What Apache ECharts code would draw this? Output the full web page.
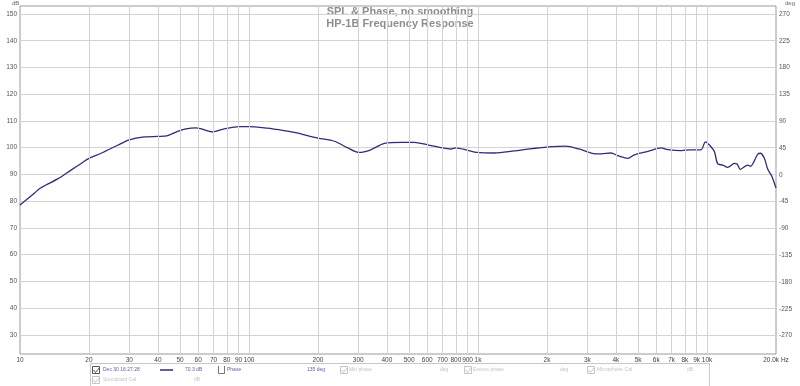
<!DOCTYPE html>
<html>
<head>
<meta charset="utf-8">
<script src="https://cdn.jsdelivr.net/npm/echarts@6/dist/echarts.min.js"></script>
<style>html,body{margin:0;padding:0;background:#fff}#c{width:800px;height:386px}</style>
</head>
<body>
<div id="c"></div>
<script>
// ---- data ----
const titleLines = ['SPL & Phase, no smoothing', 'HP-1B Frequency Response'];
const freqHz = [10, 11.2, 12.35, 14.6, 16.7, 18.5, 20, 22.6, 26.7, 30, 34.9, 40, 44.2, 48.8, 53, 58.6, 62, 69.3, 77.9, 90.6, 100, 120, 142, 158, 200, 236, 270, 302, 340, 390, 464, 527, 604, 690, 760, 800, 900, 990, 1180, 1440, 1710, 2100, 2410, 2760, 3150, 3445, 3808, 4077, 4505, 4815, 5513, 6300, 6735, 7700, 8510, 9410, 9840, 10240, 10760, 11140, 11720, 12310, 13160, 13520, 13970, 15060, 15460, 16650, 17090, 17790, 18410, 19170, 20000];
const splDb = [78.5, 82.0, 85.0, 88.3, 91.6, 94.1, 96.0, 97.9, 100.9, 102.9, 104.0, 104.2, 104.5, 106.1, 107.0, 107.4, 107.0, 105.9, 107.0, 107.9, 107.9, 107.3, 106.4, 105.7, 103.6, 102.4, 99.9, 98.2, 99.2, 101.6, 102.0, 102.0, 101.0, 100.0, 99.5, 99.9, 99.0, 98.2, 98.0, 98.8, 99.6, 100.4, 100.6, 99.5, 97.9, 97.7, 98.0, 97.0, 96.0, 97.3, 98.6, 99.9, 99.3, 98.9, 99.2, 99.2, 102.2, 101.0, 98.6, 93.9, 93.5, 92.6, 94.1, 93.9, 91.9, 93.5, 93.0, 97.6, 97.9, 96.0, 91.9, 89.3, 84.9];
const xGridValues = [20, 30, 40, 50, 60, 70, 80, 90, 100, 200, 300, 400, 500, 600, 700, 800, 900, 1000, 2000, 3000, 4000, 5000, 6000, 7000, 8000, 9000, 10000];
const xGridLabels = ['20', '30', '40', '50', '60', '70', '80', '90', '100', '200', '300', '400', '500', '600', '700', '800', '900', '1k', '2k', '3k', '4k', '5k', '6k', '7k', '8k', '9k', '10k'];
const xEdgeValues = [10, 20000];
const xEdgeLabels = ['10', '20.0k Hz'];
const dbTicks = [30, 40, 50, 60, 70, 80, 90, 100, 110, 120, 130, 140, 150];
const degTicks = [-270, -225, -180, -135, -90, -45, 0, 45, 90, 135, 180, 225, 270];
const legendRow1 = ['Dec 30 16:27:28', '70.3 dB', 'Phase', '135 deg', 'Min phase', 'deg', 'Excess phase', 'deg', 'Microphone Cal', 'dB'];
const legendRow2 = ['Soundcard Cal', 'dB'];

// ---- chart ----
const FONT = '"Liberation Sans", Arial, sans-serif';
const chart = echarts.init(document.getElementById('c'), null, {renderer: 'canvas'});

const gridMarks = xGridValues.map((v, i) => ({xAxis: v, name: xGridLabels[i]}));
const edgeMarks = xEdgeValues.map((v, i) => ({xAxis: v, name: xEdgeLabels[i], lineStyle: {color: 'rgba(0,0,0,0)'}}));

const txt = (x, y, s, fill) => ({type: 'text', x: x, y: y, style: {text: s, fill: fill, font: '5px ' + FONT, verticalAlign: 'middle'}, silent: true});
const box = (x, y, stroke, checked) => {
  const els = [{type: 'rect', shape: {x: x + 0.5, y: y + 0.5, width: 7, height: 7}, style: {fill: 'none', stroke: stroke, lineWidth: 1}}];
  if (checked) els.push({type: 'polyline', shape: {points: [[x + 1.5, y + 4], [x + 3.5, y + 6.5], [x + 7.5, y + 1.5]]}, style: {fill: 'none', stroke: stroke, lineWidth: 1}});
  return els;
};
const faded = '#c4c4c4';
const blue = '#5e5ea8';
const graphics = [
  {type: 'text', left: 'center', top: 6, style: {text: titleLines[0], fill: '#8e8e8e', font: 'bold 11px ' + FONT}},
  {type: 'text', left: 'center', top: 18, style: {text: titleLines[1], fill: '#8e8e8e', font: 'bold 11px ' + FONT}},
  {type: 'text', x: 12, y: 0, style: {text: 'dB', fill: '#666', font: '6px ' + FONT}},
  {type: 'text', x: 785, y: 0, style: {text: 'deg', fill: '#666', font: '6px ' + FONT}},
  {type: 'rect', shape: {x: 90.5, y: 363.5, width: 619, height: 30}, style: {fill: 'none', stroke: '#c8c8c8', lineWidth: 1}},
  ...box(92, 366, '#555', true),
  txt(103, 370, legendRow1[0], blue),
  {type: 'line', shape: {x1: 160, y1: 370, x2: 173, y2: 370}, style: {stroke: '#2d2d7a', lineWidth: 1.5}},
  txt(185, 370, legendRow1[1], blue),
  {type: 'polyline', shape: {points: [[218.5, 366], [218.5, 373.5], [224.5, 373.5], [224.5, 366]]}, style: {fill: 'none', stroke: '#777', lineWidth: 1}},
  txt(227, 370, legendRow1[2], blue),
  txt(307, 370, legendRow1[3], blue),
  ...box(340, 366, faded, true),
  txt(349, 370, legendRow1[4], faded),
  txt(440, 370, legendRow1[5], faded),
  ...box(464, 366, faded, true),
  txt(473, 370, legendRow1[6], faded),
  txt(560, 370, legendRow1[7], faded),
  ...box(587, 366, faded, true),
  txt(597, 370, legendRow1[8], faded),
  txt(687, 370, legendRow1[9], faded),
  ...box(92, 376, faded, true),
  txt(103, 380, legendRow2[0], faded),
  txt(194, 380, legendRow2[1], faded)
];

chart.setOption({
  animation: false,
  backgroundColor: '#fff',
  textStyle: {fontFamily: FONT},
  grid: {left: 20, right: 24, top: 6, bottom: 32, show: true, borderColor: '#9a9a9a', borderWidth: 1, containLabel: false},
  xAxis: {
    type: 'log', logBase: 10, min: 10, max: 20000,
    axisLine: {show: false}, axisTick: {show: false}, axisLabel: {show: false},
    splitLine: {show: false}, minorSplitLine: {show: false}
  },
  yAxis: [
    {
      type: 'value', min: 22.8, max: 153, position: 'left',
      axisLine: {show: false},
      axisTick: {show: false, customValues: dbTicks},
      axisLabel: {customValues: dbTicks, color: '#555', fontSize: 6.5, margin: 3, fontFamily: FONT},
      splitLine: {show: true, lineStyle: {color: '#d3d3d3', width: 1}}
    },
    {
      type: 'value', min: -301, max: 283.5, position: 'right',
      axisLine: {show: false},
      axisTick: {show: false, customValues: degTicks},
      axisLabel: {customValues: degTicks, color: '#555', fontSize: 6.5, margin: 3, fontFamily: FONT},
      splitLine: {show: false}
    }
  ],
  graphic: graphics,
  series: [
    {
      type: 'line', data: [], z: 1, silent: true,
      markLine: {
        silent: true, symbol: ['none', 'none'], animation: false,
        lineStyle: {color: '#d3d3d3', width: 1, type: 'solid'},
        label: {show: true, position: 'start', formatter: '{b}', color: '#444', fontSize: 6.5, distance: 3, fontFamily: FONT},
        emphasis: {disabled: true},
        data: gridMarks.concat(edgeMarks)
      }
    },
    {
      type: 'line', z: 3, silent: true,
      data: freqHz.map((f, i) => [f, splDb[i]]),
      showSymbol: false, smooth: 0.3,
      lineStyle: {color: '#2d2d7a', width: 1.3}
    }
  ]
});
</script>
</body>
</html>
